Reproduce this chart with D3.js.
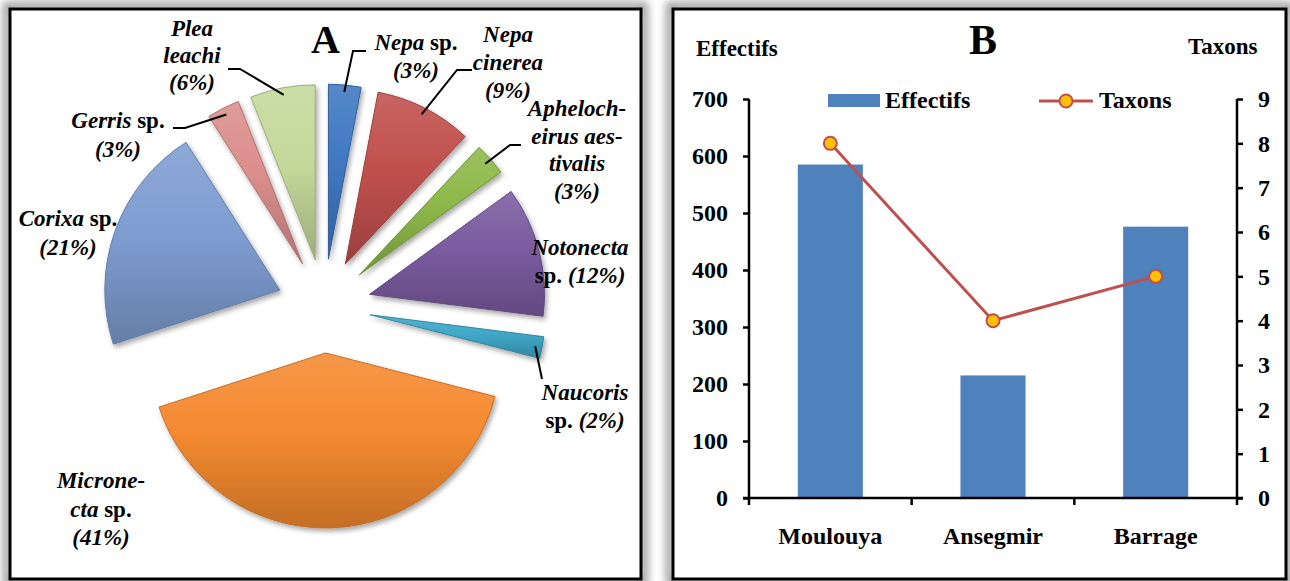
<!DOCTYPE html>
<html>
<head>
<meta charset="utf-8">
<script src="https://cdn.jsdelivr.net/npm/d3@7"></script>
<style>
  html, body { margin: 0; padding: 0; background: #fff; }
  svg { display: block; }
  text { font-family: "Liberation Serif", "Times New Roman", serif; font-weight: bold; fill: #000; }
</style>
</head>
<body>
<svg id="chart" width="1290" height="581"></svg>
<script>
// ---------------- DATA ----------------
// Panel A: pie (order clockwise from 12 o'clock)
const species  = ["Nepa sp.", "Nepa cinerea", "Aphelocheirus aestivalis", "Notonecta sp.", "Naucoris sp.", "Micronecta sp.", "Corixa sp.", "Gerris sp.", "Plea leachi"];
const percents = [3, 9, 3, 12, 2, 41, 21, 3, 6];
// label text lines: segments [text, italic]; "%" line built from percents
const labelLines = [
  [[["Nepa",1],[" sp.",0]], "pct"],
  [[["Nepa",1]], [["cinerea",1]], "pct"],
  [[["Apheloch-",1]], [["eirus aes-",1]], [["tivalis",1]], "pct"],
  [[["Notonecta",1]], [["sp.",0],["PCT",1]]],
  [[["Naucoris",1]], [["sp.",0],["PCT",1]]],
  [[["Microne-",1]], [["cta",1],[" sp.",0]], "pct"],
  [[["Corixa",1],[" sp.",0]], "pct"],
  [[["Gerris",1],[" sp.",0]], "pct"],
  [[["Plea",1]], [["leachi",1]], "pct"]
];
// Panel B: combo chart
const sites     = ["Moulouya", "Ansegmir", "Barrage"];
const effectifs = [585, 215, 476];
const taxons    = [8, 4, 5];
const leftTicks  = [0, 100, 200, 300, 400, 500, 600, 700];
const rightTicks = [0, 1, 2, 3, 4, 5, 6, 7, 8, 9];

// ---------------- LAYOUT ----------------
const sliceColors = ["#3F78C2", "#C0504D", "#8DB849", "#7A5CA0", "#3FA8C8", "#F58A30", "#7E9DD1", "#DB8E8C", "#C4D99A"];
const labelPos = [ // center x, first baseline y, line height
  {x: 416, y: 50, lh: 28, leader: [[366, 51], [353, 51]]},
  {x: 508, y: 42, lh: 28, leader: [[472, 70], [457, 70]]},
  {x: 577, y: 116, lh: 27.5, leader: [[521, 145], [510, 145]]},
  {x: 580, y: 255, lh: 28},
  {x: 585, y: 400, lh: 28, leader: [[542, 379]]},
  {x: 101, y: 488, lh: 28.5},
  {x: 68, y: 226, lh: 29},
  {x: 118, y: 128, lh: 29, leader: [[173, 128], [185, 128]]},
  {x: 192, y: 36, lh: 27, leader: [[228, 69], [240, 69]]}
];

const svg = d3.select("#chart");
const defs = svg.append("defs");

// glow filter for panel frames
const glow = defs.append("filter").attr("id", "glow").attr("x", "-5%").attr("y", "-5%").attr("width", "110%").attr("height", "110%");
glow.append("feGaussianBlur").attr("stdDeviation", 4);

const shadow = defs.append("filter").attr("id", "shadow").attr("x", "-20%").attr("y", "-20%").attr("width", "140%").attr("height", "140%");
shadow.append("feDropShadow").attr("dx", 2).attr("dy", 3).attr("stdDeviation", 2.5).attr("flood-color", "#000").attr("flood-opacity", 0.35);

// frames
const frames = [{x: 10, y: 9, w: 631, h: 570}, {x: 673, y: 9, w: 613, h: 570}];
frames.forEach(f => {
  svg.append("rect").attr("x", f.x - 3).attr("y", f.y - 3).attr("width", f.w + 6).attr("height", f.h + 6)
    .attr("fill", "none").attr("stroke", "#9a9a9a").attr("stroke-width", 8).attr("filter", "url(#glow)");
});
frames.forEach(f => {
  svg.append("rect").attr("x", f.x).attr("y", f.y).attr("width", f.w).attr("height", f.h)
    .attr("fill", "#fff").attr("stroke", "#000").attr("stroke-width", 3);
});

// ---------------- PANEL A ----------------
const cx = 324, cy = 306, R = 175, explode = 47;
const pie = d3.pie().sort(null).value(d => d).startAngle(0).endAngle(2 * Math.PI);
const arcs = pie(percents);
const arc = d3.arc().innerRadius(0).outerRadius(R);

function lighten(c, k) { return d3.interpolateRgb(c, "#fff")(k); }
function darken(c, k) { return d3.interpolateRgb(c, "#000")(k); }

arcs.forEach((a, i) => {
  const g = defs.append("linearGradient").attr("id", "sg" + i).attr("x1", 0).attr("y1", 0).attr("x2", 0).attr("y2", 1);
  g.append("stop").attr("offset", "0%").attr("stop-color", lighten(sliceColors[i], 0.12));
  g.append("stop").attr("offset", "45%").attr("stop-color", sliceColors[i]);
  g.append("stop").attr("offset", "100%").attr("stop-color", darken(sliceColors[i], 0.2));
});

const pieG = svg.append("g").attr("transform", `translate(${cx},${cy})`);
const tips = arcs.map(a => {
  const m = (a.startAngle + a.endAngle) / 2;
  return [explode * Math.sin(m), -explode * Math.cos(m)];
});
pieG.selectAll("path.slice").data(arcs).join("path")
  .attr("class", "slice")
  .attr("d", arc)
  .attr("transform", (d, i) => `translate(${tips[i][0]},${tips[i][1]})`)
  .attr("fill", (d, i) => `url(#sg${i})`)
  .attr("stroke", (d, i) => darken(sliceColors[i], 0.2))
  .attr("stroke-width", 1)
  .attr("stroke-linejoin", "round")
  .attr("filter", "url(#shadow)");

// labels + leaders
const fs = 23;
arcs.forEach((a, i) => {
  const p = labelPos[i];
  const lines = labelLines[i];
  lines.forEach((ln, k) => {
    const t = svg.append("text").attr("x", p.x).attr("y", p.y + k * p.lh)
      .attr("text-anchor", "middle").attr("font-size", fs);
    const segs = ln === "pct" ? [[`(${percents[i]}%)`, 1]] : ln.map(s => s[0] === "PCT" ? [` (${percents[i]}%)`, s[1]] : s);
    segs.forEach(s => t.append("tspan").text(s[0]).attr("font-style", s[1] ? "italic" : "normal"));
  });
  if (p.leader) {
    const m = (a.startAngle + a.endAngle) / 2;
    const r = 168;
    const end = [cx + tips[i][0] + r * Math.sin(m), cy + tips[i][1] - r * Math.cos(m)];
    const pts = p.leader.concat([end]);
    svg.append("path").attr("d", d3.line()(pts)).attr("fill", "none").attr("stroke", "#000").attr("stroke-width", 2);
  }
});

svg.append("text").attr("x", 311).attr("y", 53).attr("font-size", 40).text("A");

// ---------------- PANEL B ----------------
const x0 = 749, x1 = 1237, yTop = 99, yBot = 498;
const x = d3.scaleBand().domain(sites).range([x0, x1]).paddingInner(0.6).paddingOuter(0.3);
const yL = d3.scaleLinear().domain([0, 700]).range([yBot, yTop]);
const yR = d3.scaleLinear().domain([0, 9]).range([yBot, yTop]);
const bFs = 24;

// bars
svg.append("g").selectAll("rect").data(effectifs).join("rect")
  .attr("x", (d, i) => x(sites[i]))
  .attr("y", d => yL(d))
  .attr("width", x.bandwidth())
  .attr("height", d => yBot - yL(d))
  .attr("fill", "#4F81BD");

// axes
const axL = svg.append("g").attr("transform", `translate(${x0},0)`)
  .call(d3.axisLeft(yL).tickValues(leftTicks).tickSize(6).tickPadding(15).tickFormat(d3.format("d")));
const axR = svg.append("g").attr("transform", `translate(${x1},0)`)
  .call(d3.axisRight(yR).tickValues(rightTicks).tickSize(6).tickPadding(15).tickFormat(d3.format("d")));
[axL, axR].forEach(ax => {
  ax.select(".domain").attr("stroke", "#000").attr("stroke-width", 2.5).attr("d", `M0,${yTop}V${yBot}`);
  ax.selectAll(".tick line").attr("stroke", "#000").attr("stroke-width", 2.5);
  ax.selectAll(".tick text").attr("font-size", bFs).attr("font-family", "Liberation Serif").attr("font-weight", "bold").attr("fill", "#000");
});

// x axis: line, boundary ticks, labels
const axB = svg.append("g").attr("transform", `translate(0,${yBot})`)
  .call(d3.axisBottom(x).tickSize(0).tickPadding(29));
axB.select(".domain").attr("d", `M${x0 - 6},0H${x1 + 6}`).attr("stroke", "#000").attr("stroke-width", 2.5);
axB.selectAll(".tick text").attr("font-size", bFs).attr("font-family", "Liberation Serif").attr("font-weight", "bold").attr("fill", "#000");
const bounds = [x0].concat(sites.map(s => x(s) + x.bandwidth() / 2 + x.step() / 2));
bounds[bounds.length - 1] = x1;
axB.selectAll("line.bt").data(bounds).join("line").attr("class", "bt")
  .attr("x1", d => d).attr("x2", d => d).attr("y1", 0).attr("y2", 7)
  .attr("stroke", "#000").attr("stroke-width", 2.5);

// line + markers
const lineGen = d3.line().x((d, i) => x(sites[i]) + x.bandwidth() / 2).y(d => yR(d));
svg.append("path").datum(taxons).attr("d", lineGen).attr("fill", "none").attr("stroke", "#C0504D").attr("stroke-width", 3);
svg.append("g").selectAll("circle").data(taxons).join("circle")
  .attr("cx", (d, i) => x(sites[i]) + x.bandwidth() / 2).attr("cy", d => yR(d)).attr("r", 6.5)
  .attr("fill", "#FFC000").attr("stroke", "#C0504D").attr("stroke-width", 2);

// titles
svg.append("text").attr("x", 696).attr("y", 56).attr("font-size", 23).text("Effectifs");
svg.append("text").attr("x", 1188).attr("y", 54).attr("font-size", 23).text("Taxons");
svg.append("text").attr("x", 969).attr("y", 54).attr("font-size", 42).text("B");

// legend
svg.append("rect").attr("x", 828).attr("y", 94).attr("width", 52).attr("height", 13).attr("fill", "#4F81BD");
svg.append("text").attr("x", 885).attr("y", 108).attr("font-size", bFs).text("Effectifs");
svg.append("line").attr("x1", 1039).attr("x2", 1093).attr("y1", 101).attr("y2", 101).attr("stroke", "#C0504D").attr("stroke-width", 3);
svg.append("circle").attr("cx", 1066).attr("cy", 101).attr("r", 6.5).attr("fill", "#FFC000").attr("stroke", "#C0504D").attr("stroke-width", 2);
svg.append("text").attr("x", 1099).attr("y", 108).attr("font-size", bFs).text("Taxons");
</script>
</body>
</html>
